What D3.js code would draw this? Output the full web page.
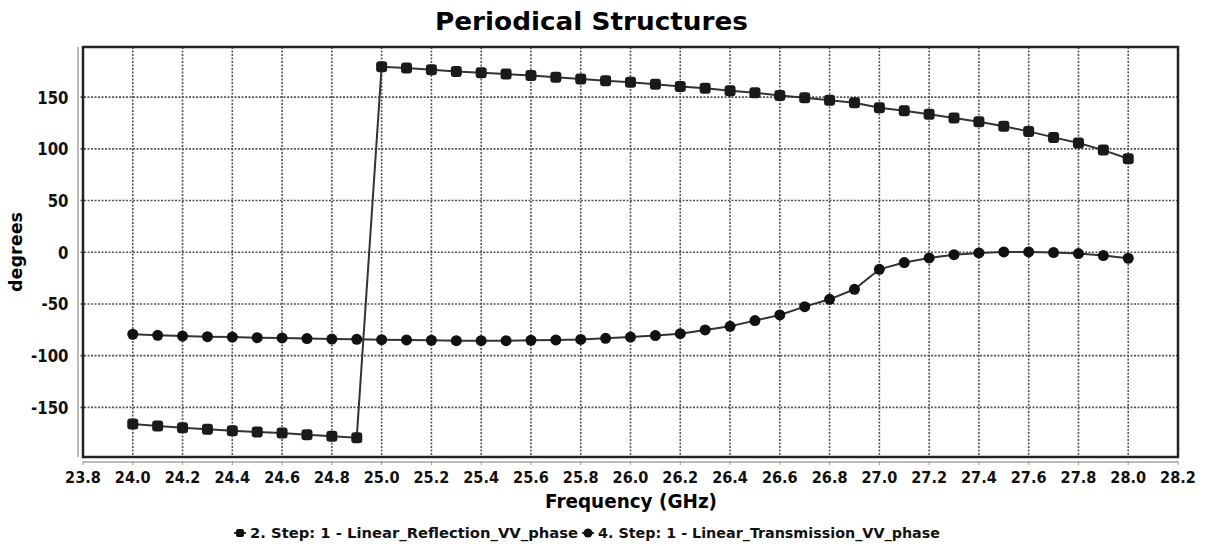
<!DOCTYPE html>
<html>
<head>
<meta charset="utf-8">
<script src="https://cdn.jsdelivr.net/npm/d3@7"></script>
<style>
  body { margin: 0; background: #fff; }
  svg { display: block; }
</style>
</head>
<body>
<div id="chart"></div>
<script>
// frequency points (GHz)
const freqs = d3.range(0, 41).map(i => +(24 + i * 0.1).toFixed(1));

// series values (degrees)
const reflection = [
  -166, -168, -169.6, -171.2, -172.5, -173.8, -174.7, -176.4, -178, -179.3,
  179.4, 178.1, 176.5, 174.9, 173.6, 172.3, 171, 169.3, 167.5, 165.9,
  164.3, 162.4, 160.4, 158.5, 156.2, 154.3, 151.7, 149.4, 146.9, 144.6,
  139.8, 136.9, 133.4, 129.8, 126.2, 121.8, 116.9, 111.1, 105.6, 98.8, 90.4
];
const transmission = [
  -79.3, -80.3, -81, -81.6, -82, -82.6, -82.9, -83.5, -83.9, -84.2,
  -84.5, -84.8, -85.1, -85.5, -85.5, -85.5, -85.1, -84.8, -84.3, -83.2,
  -82, -80.6, -78.7, -75.1, -71.6, -66.1, -60.6, -52.6, -45.5, -35.8,
  -16.5, -10, -5.5, -2.3, -0.7, 0.3, 0.3, -0.3, -1.3, -3.2, -5.8
];

const xTicks = d3.range(0, 23).map(i => +(23.8 + i * 0.2).toFixed(1));
const yTicks = [-150, -100, -50, 0, 50, 100, 150];

const seriesNames = [
  "2. Step: 1 - Linear_Reflection_VV_phase",
  "4. Step: 1 - Linear_Transmission_VV_phase"
];

const W = 1213, H = 546;
const plotL = 83, plotR = 1178, plotT = 47, plotB = 457;

const svg = d3.select("#chart").append("svg")
  .attr("width", W).attr("height", H)
  .style("font-family", "'DejaVu Sans', sans-serif");

const x = d3.scaleLinear().domain([23.8, 28.2]).range([plotL, plotR]);
const y = d3.scaleLinear().domain([-198, 198.5]).range([plotB, plotT]);

// squeeze text horizontally, the original font is narrower than DejaVu
function squeeze(sel, k) {
  sel.each(function() {
    const w = this.getComputedTextLength();
    d3.select(this).attr("textLength", w * k).attr("lengthAdjust", "spacingAndGlyphs");
  });
}

// title
svg.append("text")
  .attr("x", 591.5).attr("y", 29.5)
  .attr("text-anchor", "middle")
  .attr("font-size", 25).attr("font-weight", "bold")
  .attr("textLength", 313).attr("lengthAdjust", "spacingAndGlyphs")
  .text("Periodical Structures");

// grid
const grid = svg.append("g");
grid.selectAll(".vg").data(xTicks.slice(1, -1)).enter().append("line")
  .attr("x1", d => x(d)).attr("x2", d => x(d))
  .attr("y1", plotT).attr("y2", plotB)
  .attr("stroke", "#555").attr("stroke-width", 1.6)
  .attr("stroke-dasharray", "2,1.5");
grid.selectAll(".hg").data(yTicks).enter().append("line")
  .attr("x1", plotL - 6).attr("x2", plotR)
  .attr("y1", d => y(d)).attr("y2", d => y(d))
  .attr("stroke", "#555").attr("stroke-width", 1.6)
  .attr("stroke-dasharray", "2,1.5");

// axis lines (light, offset from the plot box)
svg.append("line")
  .attr("x1", plotL - 5).attr("x2", plotL - 5)
  .attr("y1", plotT).attr("y2", plotB)
  .attr("stroke", "#bbb").attr("stroke-width", 2);
svg.append("line")
  .attr("x1", plotL).attr("x2", plotR)
  .attr("y1", plotB + 5).attr("y2", plotB + 5)
  .attr("stroke", "#bbb").attr("stroke-width", 2);
svg.selectAll(".xt").data(xTicks).enter().append("line")
  .attr("x1", d => x(d)).attr("x2", d => x(d))
  .attr("y1", plotB + 4).attr("y2", plotB + 8)
  .attr("stroke", "#999");

// plot box
svg.append("rect")
  .attr("x", plotL).attr("y", plotT)
  .attr("width", plotR - plotL).attr("height", plotB - plotT)
  .attr("fill", "none").attr("stroke", "#222").attr("stroke-width", 2.5);

// tick labels
svg.selectAll(".yl").data(yTicks).enter().append("text")
  .attr("x", plotL - 14.5).attr("y", d => y(d) + 6.5)
  .attr("text-anchor", "end")
  .attr("font-size", 17).attr("font-weight", "bold")
  .attr("fill", "#111")
  .text(d => d)
  .call(squeeze, 0.88);

svg.selectAll(".xl").data(xTicks).enter().append("text")
  .attr("x", d => x(d)).attr("y", plotB + 25.5)
  .attr("text-anchor", "middle")
  .attr("font-size", 16.5).attr("font-weight", "bold")
  .attr("fill", "#111")
  .text(d => d.toFixed(1))
  .call(squeeze, 0.88);

// axis titles
svg.append("text")
  .attr("transform", "translate(22,252) rotate(-90)")
  .attr("text-anchor", "middle")
  .attr("font-size", 17).attr("font-weight", "bold")
  .attr("textLength", 80).attr("lengthAdjust", "spacingAndGlyphs")
  .text("degrees");
svg.append("text")
  .attr("x", 631).attr("y", 508)
  .attr("text-anchor", "middle")
  .attr("font-size", 20).attr("font-weight", "bold")
  .attr("textLength", 172).attr("lengthAdjust", "spacingAndGlyphs")
  .text("Frequency (GHz)");

// series
const line = d3.line().x(d => x(d[0])).y(d => y(d[1]));
const refData = freqs.map((f, i) => [f, reflection[i]]);
const trData = freqs.map((f, i) => [f, transmission[i]]);

const plot = svg.append("g");
[refData, trData].forEach(data => {
  plot.append("path").datum(data)
    .attr("d", line)
    .attr("fill", "none")
    .attr("stroke", "#333").attr("stroke-width", 2);
});

plot.selectAll(".sq").data(refData).enter().append("rect")
  .attr("x", d => x(d[0]) - 5.5).attr("y", d => y(d[1]) - 5.5)
  .attr("width", 11).attr("height", 11)
  .attr("rx", 3)
  .attr("fill", "#1a1a1a");

plot.selectAll(".ci").data(trData).enter().append("circle")
  .attr("cx", d => x(d[0])).attr("cy", d => y(d[1]))
  .attr("r", 5.5)
  .attr("fill", "#111");

// legend
const lg = svg.append("g").attr("font-family", "'DejaVu Sans Condensed', 'DejaVu Sans', sans-serif");
const items = [
  { x: 234, tx: 250, len: 328, shape: "sq" },
  { x: 582, tx: 598, len: 342, shape: "ci" }
];
items.forEach((it, i) => {
  lg.append("line")
    .attr("x1", it.x).attr("x2", it.x + 12)
    .attr("y1", 533).attr("y2", 533)
    .attr("stroke", "#333").attr("stroke-width", 2);
  if (it.shape === "sq") {
    lg.append("rect").attr("x", it.x + 2).attr("y", 529)
      .attr("width", 8).attr("height", 8).attr("rx", 2).attr("fill", "#111");
  } else {
    lg.append("circle").attr("cx", it.x + 6).attr("cy", 533)
      .attr("r", 4.5).attr("fill", "#111");
  }
  lg.append("text")
    .attr("x", it.tx).attr("y", 538)
    .attr("font-size", 14).attr("font-weight", "bold")
    .attr("fill", "#111")
    .attr("textLength", it.len).attr("lengthAdjust", "spacingAndGlyphs")
    .text(seriesNames[i]);
});
</script>
</body>
</html>
